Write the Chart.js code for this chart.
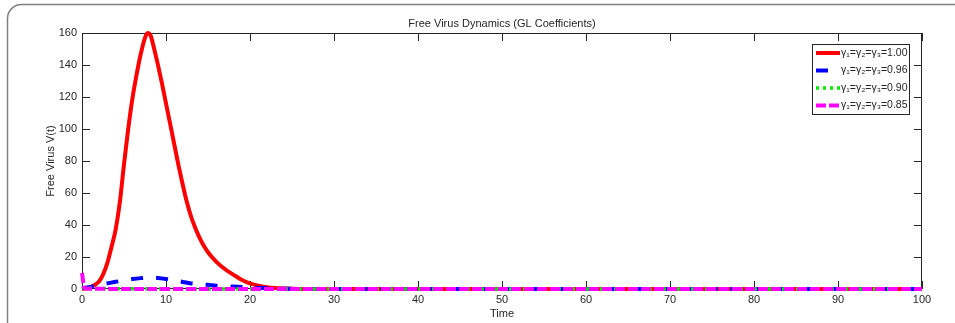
<!DOCTYPE html>
<html>
<head>
<meta charset="utf-8">
<script src="https://cdn.jsdelivr.net/npm/chart.js@4"></script>
<style>
  html, body { margin: 0; padding: 0; background: #fff; }
  canvas { display: block; }
</style>
</head>
<body>
<canvas id="chart" width="955" height="323"></canvas>
<script>
// values
const redTime = [0, 1, 2, 2.5, 3, 3.5, 4, 4.5, 5, 5.5, 6, 6.5, 7, 7.5, 7.8, 8.2, 8.5, 9, 9.5, 10, 10.5, 11, 11.5, 12, 12.5, 13, 13.5, 14, 14.5, 15, 16, 17, 18, 19, 20, 21, 22, 23, 25, 30, 100];
const v100 = [0, 1.2, 4.5, 9, 16, 26, 37, 54, 78, 100, 119, 134, 147, 157, 160, 158, 152, 141, 129, 116, 103, 90, 77, 65, 54, 45, 38, 32, 27, 23, 17, 12.5, 9, 5.8, 3.5, 2, 1.1, 0.6, 0.2, 0, 0];
const timeVals = [0, 0.3, 1, 2, 3, 4, 5, 6, 7, 8, 9, 10, 11, 12, 13, 14, 15, 16, 17, 18, 19, 20, 22, 25, 30, 100];
const v096 = [0.5, 0.8, 1.2, 2.5, 3.5, 4.5, 5.3, 6.2, 6.8, 7.1, 6.9, 6.3, 5.4, 4.4, 3.5, 3.0, 2.6, 2.1, 1.8, 1.5, 1.2, 0.9, 0.4, 0.1, 0, 0];
const v090 = [1, 0.6, 0.4, 0.3, 0.2, 0.2, 0.1, 0.1, 0.1, 0.1, 0.1, 0, 0, 0, 0, 0, 0, 0, 0, 0, 0, 0, 0, 0, 0, 0];
const v085 = [10, 0.5, 0.2, 0.1, 0.1, 0, 0, 0, 0, 0, 0, 0, 0, 0, 0, 0, 0, 0, 0, 0, 0, 0, 0, 0, 0, 0];
const seriesLabels = ['γ₁=γ₂=γ₃=1.00', 'γ₁=γ₂=γ₃=0.96', 'γ₁=γ₂=γ₃=0.90', 'γ₁=γ₂=γ₃=0.85'];
const xTicks = [0, 10, 20, 30, 40, 50, 60, 70, 80, 90, 100];
const yTicks = [0, 20, 40, 60, 80, 100, 120, 140, 160];

const FONT = '"Liberation Sans", Arial, sans-serif';
const TXT = '#262626';

const pts = (tt, arr) => arr.map((v, i) => ({ x: tt[i], y: v }));

// frame, title, axes box with inward ticks, and the legend
const matlabLook = {
    id: 'matlabLook',
    beforeDraw(chart) {
        const ctx = chart.ctx;
        ctx.save();
        ctx.strokeStyle = '#808080';
        ctx.lineWidth = 1.5;
        ctx.beginPath();
        const x = 7.5, y = 4.5, r = 14;
        ctx.moveTo(x, 340);
        ctx.lineTo(x, y + r);
        ctx.arcTo(x, y, x + r, y, r);
        ctx.lineTo(970, y);
        ctx.stroke();
        // figure title
        ctx.fillStyle = TXT;
        ctx.font = '11px ' + FONT;
        ctx.textAlign = 'center';
        ctx.textBaseline = 'middle';
        const a = chart.chartArea;
        ctx.fillText('Free Virus Dynamics (GL Coefficients)', (a.left + a.right) / 2, 24);
        ctx.restore();
    },
    beforeDatasetsDraw(chart) {
        const ctx = chart.ctx, a = chart.chartArea;
        const xs = chart.scales.x, ys = chart.scales.y;
        ctx.save();
        ctx.strokeStyle = '#262626';
        ctx.lineWidth = 1;
        ctx.strokeRect(a.left + 0.5, a.top + 0.5, a.right - a.left - 1, a.bottom - a.top - 1);
        ctx.beginPath();
        xTicks.forEach(v => {
            const px = Math.round(xs.getPixelForValue(v)) + 0.5;
            ctx.moveTo(px, a.bottom); ctx.lineTo(px, a.bottom - 8);
            ctx.moveTo(px, a.top); ctx.lineTo(px, a.top + 8);
        });
        yTicks.forEach(v => {
            const py = Math.round(ys.getPixelForValue(v)) + 0.5;
            ctx.moveTo(a.left, py); ctx.lineTo(a.left + 8, py);
            ctx.moveTo(a.right, py); ctx.lineTo(a.right - 8, py);
        });
        ctx.stroke();
        ctx.restore();
    },
    afterDraw(chart) {
        const ctx = chart.ctx;
        const bx = 812, by = 44, bw = 97, bh = 70;
        ctx.save();
        ctx.fillStyle = '#fff';
        ctx.fillRect(bx, by, bw, bh);
        ctx.strokeStyle = '#262626';
        ctx.lineWidth = 1;
        ctx.strokeRect(bx + 0.5, by + 0.5, bw, bh);
        ctx.font = '10.5px ' + FONT;
        ctx.textAlign = 'left';
        ctx.textBaseline = 'middle';
        chart.data.datasets.forEach((ds, i) => {
            const yy = by + 9 + i * 17.5;
            ctx.strokeStyle = ds.borderColor;
            ctx.lineWidth = ds.borderWidth;
            ctx.setLineDash(ds.borderDash || []);
            ctx.beginPath();
            ctx.moveTo(816, yy);
            ctx.lineTo(840, yy);
            ctx.stroke();
            ctx.setLineDash([]);
            ctx.fillStyle = TXT;
            ctx.fillText(ds.label, 841, yy);
        });
        ctx.restore();
    }
};

new Chart(document.getElementById('chart'), {
    type: 'line',
    data: {
        datasets: [
            { label: seriesLabels[0], data: pts(redTime, v100), borderColor: '#ff0000', borderWidth: 4, order: 3 },
            { label: seriesLabels[1], data: pts(timeVals, v096), borderColor: '#0000ff', borderWidth: 4, borderDash: [12, 13], order: 2 },
            { label: seriesLabels[2], data: pts(timeVals, v090), borderColor: '#00ee00', borderWidth: 3.5, borderDash: [3, 4], order: 1 },
            { label: seriesLabels[3], data: pts(timeVals, v085), borderColor: '#ff00ff', borderWidth: 4, borderDash: [10, 3], order: 0 }
        ].map(d => Object.assign(d, { pointRadius: 0, cubicInterpolationMode: 'monotone', fill: false, clip: 6 }))
    },
    options: {
        responsive: false,
        animation: false,
        devicePixelRatio: 1,
        layout: { padding: { top: 33, right: 33, left: 0, bottom: 0 } },
        plugins: { legend: { display: false }, title: { display: false }, tooltip: { enabled: false } },
        scales: {
            x: {
                type: 'linear', min: 0, max: 100,
                afterFit: s => { s.height = 34; },
                afterBuildTicks: s => { s.ticks = xTicks.map(v => ({ value: v })); },
                grid: { display: false, drawTicks: false }, border: { display: false },
                ticks: { color: TXT, font: { family: FONT, size: 11 }, padding: 4, maxRotation: 0 },
                title: { display: true, text: 'Time', color: TXT, font: { family: FONT, size: 11 }, padding: { bottom: 2 } }
            },
            y: {
                min: 0, max: 160,
                afterFit: s => { s.width = 82; },
                afterBuildTicks: s => { s.ticks = yTicks.map(v => ({ value: v })); },
                grid: { display: false, drawTicks: false }, border: { display: false },
                ticks: { color: TXT, font: { family: FONT, size: 11 }, padding: 5 },
                title: { display: true, text: 'Free Virus V(t)', color: TXT, font: { family: FONT, size: 11 }, padding: { top: 44 } }
            }
        }
    },
    plugins: [matlabLook]
});
</script>
</body>
</html>
